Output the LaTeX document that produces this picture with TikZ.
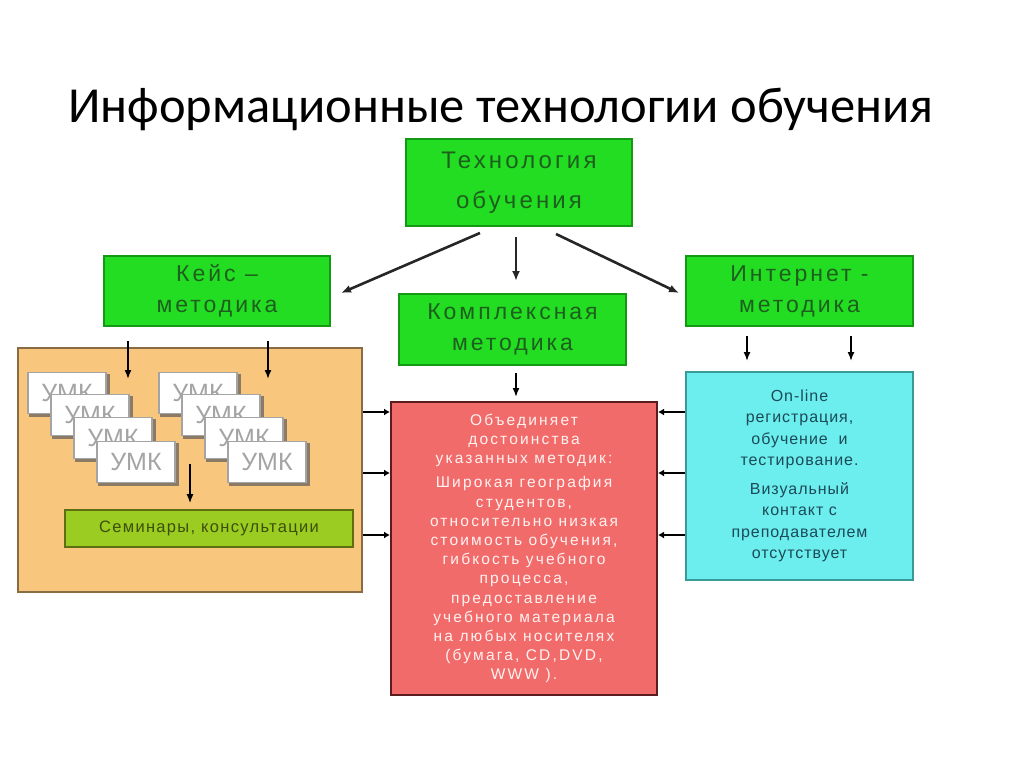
\documentclass[tikz,border=0pt]{standalone}
\usepackage{fontspec}
\setmainfont{Carlito}
\newfontfamily\df{Liberation Sans}
\usetikzlibrary{arrows.meta}
\definecolor{gfill}{HTML}{22DD22}
\definecolor{gline}{HTML}{149914}
\definecolor{gtext}{HTML}{1E5E1E}
\definecolor{ofill}{HTML}{F8C67C}
\definecolor{oline}{HTML}{8A6C44}
\definecolor{rfill}{HTML}{F26B6B}
\definecolor{rline}{HTML}{5A1C1C}
\definecolor{rtext}{HTML}{FFF2F0}
\definecolor{cfill}{HTML}{6CEEEE}
\definecolor{cline}{HTML}{3A9A9A}
\definecolor{ctext}{HTML}{1C4A58}
\definecolor{sfill}{HTML}{9ACC22}
\definecolor{sline}{HTML}{5E6E10}
\definecolor{stext}{HTML}{3E4E08}
\definecolor{ugray}{HTML}{A4A4A4}
\definecolor{ushadow}{HTML}{8A7A66}
\tikzset{
  x=1pt, y=-1pt,
  gbox/.style={draw=gline, line width=2pt, fill=gfill, text=gtext, align=center, inner sep=0pt,
    font=\df\fontsize{23}{31}\selectfont\addfontfeature{LetterSpace=13}},
  bigbox/.style={line width=2pt, align=center, inner sep=0pt},
  umk/.style={draw=ugray, line width=1.2pt, fill=white, text=ugray, minimum width=78pt, minimum height=41pt, inner sep=0pt,
    font=\df\fontsize{25}{28}\selectfont},
  arr/.style={-{Latex[length=9pt,width=7pt]}, line width=1.6pt, black},
  darr/.style={-{Latex[length=10pt,width=8pt]}, line width=2.6pt, black!85},
  sarr/.style={-{Latex[length=6pt,width=7pt]}, line width=1.6pt, black},
}
\begin{document}
\begin{tikzpicture}
\useasboundingbox (0,0) rectangle (1024,768);
% title
\node[anchor=base, inner sep=0pt, font=\fontsize{50.5}{60}\selectfont] (title) at (501,122) {Информационные технологии обучения};

% green boxes
\node[gbox, minimum width=226pt, minimum height=87pt, font=\df\fontsize{24}{40}\selectfont\addfontfeature{LetterSpace=13}] (tech) at (519,182.5) {Технология\\обучения};
\node[gbox, minimum width=226pt, minimum height=70pt] (case) at (217,291) {Кейс –\\методика};
\node[gbox, minimum width=227pt, minimum height=71pt] (compl) at (512.5,329.5) {Комплексная\\методика};
\node[gbox, minimum width=227pt, minimum height=70pt] (inet) at (799.5,291) {Интернет -\\методика};

% orange container
\node[bigbox, draw=oline, fill=ofill, minimum width=344pt, minimum height=244pt] (orange) at (190,470) {};

% UMK stacks
\foreach \i/\dx/\dy in {1/0/0,2/23/22,3/46/45,4/69/69}{
  \fill[ushadow] (29+\dx,374+\dy) rectangle (110+\dx,417+\dy);
  \node[umk] (ua\i) at (67+\dx,393+\dy) {УМК};
  \fill[ushadow] (160+\dx,374+\dy) rectangle (241+\dx,417+\dy);
  \node[umk] (ub\i) at (198+\dx,393+\dy) {УМК};
}

% seminar box
\node[draw=sline, line width=1.6pt, fill=sfill, text=stext, minimum width=288pt, minimum height=37pt, inner sep=0pt,
  font=\df\fontsize{16.5}{20}\selectfont\addfontfeature{LetterSpace=8}] (sem) at (209,528.5) {Семинары, консультации};

% red box
\node[bigbox, draw=rline, fill=rfill, text=rtext, minimum width=266pt, minimum height=293pt,
  font=\df\fontsize{15.5}{19.2}\selectfont\addfontfeature{LetterSpace=14}] (red) at (524,548.5) {%
Объединяет\\достоинства\\указанных методик:\\[5pt]Широкая география\\студентов,\\относительно низкая\\стоимость обучения,\\гибкость учебного\\процесса,\\предоставление\\учебного материала\\на любых носителях\\(бумага, CD,DVD,\\WWW ).};

% cyan box
\node[bigbox, draw=cline, fill=cfill, text=ctext, minimum width=227pt, minimum height=208pt,
  font=\df\fontsize{16}{21.5}\selectfont\addfontfeature{LetterSpace=6}] (cyan) at (799.5,476) {%
On-line\\регистрация,\\обучение\ \ и\\тестирование.\\[7pt]Визуальный\\контакт с\\преподавателем\\отсутствует};

% arrows from top box
\draw[darr] ([xshift=-39pt,yshift=-6pt]tech.south) -- ([xshift=10pt,yshift=-2pt]case.east);
\draw[darr] ([xshift=-3pt,yshift=-10pt]tech.south) -- ([xshift=3.5pt,yshift=12pt]compl.north);
\draw[darr] ([xshift=37pt,yshift=-7pt]tech.south) -- ([xshift=-6pt,yshift=-2pt]inet.west);

% case -> orange
\draw[arr] ([xshift=-89pt,yshift=-14pt]case.south) -- ([xshift=-89pt,yshift=-52pt]case.south);
\draw[arr] ([xshift=51pt,yshift=-14pt]case.south) -- ([xshift=51pt,yshift=-52pt]case.south);
% compl -> red
\draw[arr] ([xshift=3.5pt,yshift=-7pt]compl.south) -- ([xshift=-8pt,yshift=4pt]red.north);
% inet -> cyan
\draw[arr] ([xshift=-52.5pt,yshift=-9pt]inet.south) -- ([xshift=-52.5pt,yshift=10pt]cyan.north);
\draw[arr] ([xshift=51.5pt,yshift=-9pt]inet.south) -- ([xshift=51.5pt,yshift=10pt]cyan.north);
% umk -> seminar
\draw[arr] ([xshift=-19pt,yshift=45pt]sem.north) -- ([xshift=-19pt,yshift=6pt]sem.north);

% side connectors
\coordinate (r1) at (0,412);
\coordinate (r2) at (0,473);
\coordinate (r3) at (0,535);
\foreach \r in {r1,r2,r3}{
  \draw[sarr] (orange.east |- \r) -- (red.west |- \r);
  \draw[sarr] (cyan.west |- \r) -- (red.east |- \r);
}
\end{tikzpicture}
\end{document}
